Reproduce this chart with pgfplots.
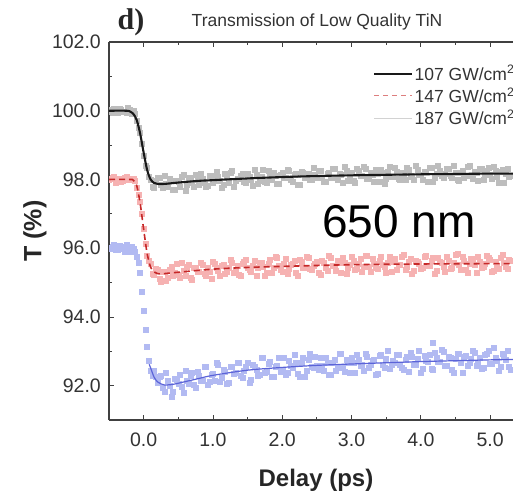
\documentclass[border=0pt]{standalone}
\usepackage{fontspec}
\setmainfont{Liberation Sans}
\newfontfamily\panelfont{Liberation Serif}
\usepackage{pgfplots}
\usepackage{pgfplotstable}
\pgfplotsset{compat=1.18}

\definecolor{txt}{HTML}{333333}
\definecolor{axgray}{HTML}{404040}
\definecolor{ptgray}{HTML}{BDBDBD}
\definecolor{ptred}{HTML}{F6B2B2}
\definecolor{ptblue}{HTML}{B2BAF2}
\definecolor{fitred}{HTML}{C62828}
\definecolor{fitblue}{HTML}{5B63D8}
\definecolor{leggray}{HTML}{D2D2D2}

% measured transmission: t = delay (ps), g/r/b = 107/147/187 GW/cm^2
\pgfplotstableread{
t g r b
-0.50 100.03 97.98 96.00
-0.45 99.95 98.06 96.05
-0.40 100.01 97.90 95.95
-0.35 100.06 98.02 96.07
-0.30 99.98 97.96 95.98
-0.25 99.93 98.08 96.11
-0.20 100.02 97.99 95.91
-0.15 100.00 98.01 95.98
-0.10 99.71 97.75 95.76
-0.05 99.35 97.35 95.30
0.00 98.69 96.56 94.17
0.05 98.33 95.79 93.12
0.10 98.00 95.54 92.44
0.15 97.75 95.23 92.43
0.20 98.05 95.37 92.08
0.25 97.84 95.03 92.30
0.30 98.10 95.32 91.81
0.35 97.78 95.13 92.13
0.40 97.97 95.45 91.68
0.45 97.70 95.29 92.19
0.50 97.94 95.24 92.07
0.55 98.07 95.59 91.96
0.60 97.68 95.21 92.44
0.65 98.04 95.53 92.07
0.70 97.90 95.09 92.38
0.75 98.15 95.43 91.95
0.80 97.84 95.33 92.28
0.85 98.02 95.51 92.13
0.90 97.80 95.20 92.54
0.95 98.11 95.32 92.11
1.00 97.91 95.61 92.34
1.05 98.24 95.43 92.67
1.10 97.97 95.20 92.12
1.15 97.85 95.52 92.46
1.20 98.08 95.33 92.05
1.25 98.19 95.67 92.56
1.30 97.79 95.28 92.36
1.35 98.02 95.49 92.66
1.40 98.12 95.21 92.28
1.45 97.93 95.61 92.44
1.50 98.18 95.44 92.66
1.55 97.98 95.33 92.18
1.60 98.27 95.65 92.54
1.65 97.87 95.42 92.30
1.70 98.08 95.59 92.80
1.75 97.93 95.21 92.39
1.80 98.25 95.54 92.64
1.85 97.99 95.29 92.27
1.90 98.11 95.75 92.55
1.95 97.87 95.50 92.80
2.00 98.20 95.33 92.46
2.05 98.05 95.69 92.33
2.10 98.26 95.40 92.72
2.15 97.93 95.54 92.52
2.20 98.17 95.28 92.66
2.25 97.84 95.66 92.25
2.30 98.19 95.43 92.82
2.35 98.10 95.74 92.43
2.40 98.00 95.39 92.93
2.45 98.33 95.50 92.51
2.50 98.05 95.61 92.59
2.55 98.25 95.22 92.80
2.60 97.94 95.59 92.43
2.65 98.16 95.34 92.67
2.70 98.04 95.71 92.33
2.75 98.31 95.48 92.75
2.80 97.99 95.65 92.51
2.85 98.15 95.30 92.94
2.90 98.37 95.58 92.41
2.95 97.97 95.44 92.67
3.00 98.20 95.74 92.81
3.05 97.90 95.38 92.39
3.10 98.26 95.55 92.75
3.15 98.11 95.32 92.61
3.20 98.31 95.78 92.93
3.25 98.03 95.47 92.51
3.30 98.13 95.70 92.72
3.35 98.29 95.42 92.31
3.40 97.94 95.64 92.87
3.45 98.19 95.53 92.60
3.50 98.02 95.28 92.78
3.55 98.37 95.74 92.50
3.60 98.07 95.62 92.72
3.65 98.24 95.37 92.89
3.70 97.98 95.51 92.61
3.75 98.18 95.82 92.45
3.80 98.35 95.46 92.83
3.85 98.10 95.68 92.97
3.90 98.00 95.34 92.60
3.95 98.28 95.60 92.77
4.00 98.13 95.40 92.39
4.05 98.23 95.76 92.88
4.10 97.93 95.48 92.71
4.15 98.33 95.65 92.50
4.20 98.06 95.26 92.96
4.25 98.41 95.71 92.69
4.30 98.11 95.57 93.04
4.35 98.16 95.32 92.58
4.40 98.31 95.63 92.84
4.45 98.04 95.44 92.45
4.50 98.21 95.80 92.77
4.55 97.96 95.52 92.94
4.60 98.26 95.75 92.38
4.65 98.10 95.38 92.88
4.70 98.40 95.55 92.67
4.75 98.02 95.69 93.02
4.80 98.20 95.30 92.57
4.85 98.30 95.61 92.81
4.90 98.00 95.47 92.51
4.95 98.25 95.77 92.93
5.00 98.15 95.66 92.65
5.05 98.37 95.35 93.10
5.10 98.07 95.49 92.72
5.15 98.22 95.72 92.55
5.20 97.92 95.58 92.87
5.25 98.32 95.41 93.01
5.30 98.12 95.63 92.45
-0.125 99.90 97.95 95.90
-0.075 99.52 97.57 95.58
-0.025 99.04 96.99 94.72
0.025 98.40 96.12 93.62
0.075 98.09 95.63 92.73
0.125 97.80 95.27 92.30
0.175 97.97 95.40 92.26
4.17 nan nan 93.25
-0.475 99.98 98.01 95.99
-0.425 100.06 98.08 96.11
-0.375 99.93 97.98 95.95
-0.325 100.02 97.94 96.04
-0.275 99.97 98.05 95.90
-0.225 100.08 97.99 96.01
-0.175 99.91 98.02 96.05
0.225 98.04 95.11 92.26
0.275 97.76 95.31 91.93
0.325 97.87 95.04 92.37
0.375 98.03 95.38 91.99
0.425 97.69 95.20 91.83
0.475 97.95 95.54 92.17
0.525 97.79 95.13 92.33
0.575 98.15 95.34 91.80
0.625 97.86 95.46 92.13
0.675 98.04 95.13 92.29
0.725 97.78 95.42 92.04
0.775 97.98 95.32 92.41
0.825 98.16 95.58 92.15
0.875 97.92 95.26 92.56
0.925 97.82 95.43 92.03
0.975 98.11 95.10 92.33
1.025 97.96 95.56 92.14
1.075 98.07 95.34 92.60
1.125 97.77 95.48 92.24
1.175 98.18 95.27 92.42
1.225 97.90 95.44 92.09
1.275 98.26 95.59 92.56
1.325 97.96 95.36 92.37
1.375 98.02 95.23 92.66
1.425 98.17 95.54 92.22
1.475 97.91 95.66 92.55
1.525 98.08 95.36 92.10
1.575 97.83 95.50 92.60
1.625 98.14 95.20 92.47
1.675 97.97 95.59 92.33
1.725 98.28 95.45 92.80
1.775 97.90 95.29 92.42
1.825 98.08 95.66 92.71
1.875 98.19 95.43 92.27
1.925 97.89 95.72 92.58
1.975 98.15 95.36 92.42
2.025 98.05 95.55 92.81
2.075 98.27 95.25 92.37
2.125 97.98 95.51 92.58
2.175 98.13 95.65 92.90
2.225 97.84 95.20 92.34
2.275 98.24 95.60 92.67
2.325 98.04 95.43 92.26
2.375 98.18 95.71 92.75
2.425 97.98 95.36 92.55
2.475 98.13 95.56 92.83
2.525 98.25 95.30 92.45
2.575 98.05 95.64 92.59
2.625 97.94 95.43 92.81
2.675 98.21 95.79 92.32
2.725 98.31 95.48 92.68
2.775 98.04 95.34 92.44
2.825 98.16 95.59 92.93
2.875 97.90 95.72 92.52
2.925 98.25 95.27 92.76
2.975 98.12 95.52 92.39
3.025 97.97 95.63 92.67
3.075 98.30 95.41 92.91
3.125 98.11 95.69 92.57
3.175 98.36 95.46 92.43
3.225 98.03 95.78 92.83
3.275 98.21 95.33 92.62
3.325 97.93 95.56 92.76
3.375 98.17 95.39 92.35
3.425 98.29 95.75 92.91
3.475 97.89 95.45 92.53
3.525 98.24 95.59 93.02
3.575 98.09 95.32 92.60
3.625 98.34 95.68 92.68
3.675 98.02 95.51 92.89
3.725 98.20 95.74 92.51
3.775 97.98 95.37 92.76
3.825 98.28 95.62 92.41
3.875 98.08 95.26 92.83
3.925 98.40 95.65 92.60
3.975 98.13 95.54 93.02
4.025 98.00 95.43 92.49
4.075 98.23 95.79 92.74
4.125 98.33 95.48 92.89
4.175 97.93 95.71 92.47
4.225 98.16 95.34 92.82
4.275 98.26 95.60 92.69
4.325 98.06 95.46 93.00
4.375 98.31 95.76 92.58
4.425 98.11 95.41 92.80
4.475 98.39 95.58 92.38
4.525 97.99 95.83 92.94
4.575 98.19 95.38 92.66
4.625 98.04 95.63 92.84
4.675 98.37 95.30 92.57
4.725 98.10 95.69 92.78
4.775 98.22 95.52 92.95
4.825 97.97 95.75 92.67
4.875 98.30 95.44 92.50
4.925 98.15 95.55 92.89
4.975 98.35 95.72 93.03
5.025 98.02 95.33 92.65
5.075 98.25 95.61 92.82
5.125 97.92 95.41 92.44
5.175 98.27 95.80 92.94
5.225 98.17 95.47 92.76
5.275 98.07 95.66 92.55
}\scan

% fitted curves
\pgfplotstableread{
t T
-0.50 100.00
-0.25 100.00
-0.20 99.98
-0.15 99.91
-0.10 99.73
-0.05 99.33
0.00 98.78
0.05 98.28
0.10 98.00
0.15 97.90
0.20 97.87
0.30 97.87
0.50 97.91
0.80 97.96
1.00 97.98
1.50 98.03
2.00 98.07
2.50 98.10
3.00 98.12
4.00 98.15
5.00 98.17
5.33 98.17
}\fitA
\pgfplotstableread{
t T
-0.50 98.00
-0.20 98.00
-0.15 97.98
-0.10 97.82
-0.05 97.30
0.00 96.55
0.05 95.85
0.10 95.45
0.15 95.31
0.20 95.26
0.25 95.25
0.30 95.26
0.50 95.30
1.00 95.39
1.50 95.44
2.00 95.47
3.00 95.52
4.00 95.54
5.00 95.55
5.33 95.55
}\fitB
\pgfplotstableread{
t T
0.08 92.62
0.10 92.52
0.15 92.25
0.20 92.11
0.25 92.05
0.30 92.02
0.40 92.03
0.50 92.07
0.80 92.21
1.00 92.30
1.50 92.45
2.00 92.53
2.50 92.59
3.00 92.63
4.00 92.70
5.00 92.75
5.33 92.76
}\fitC

\begin{document}
\begin{tikzpicture}
\path[use as bounding box] (0,0) rectangle (513pt,496pt);
\begin{axis}[
  at={(109pt,76pt)}, anchor=south west,
  scale only axis, width=404pt, height=378pt,
  xmin=-0.5, xmax=5.33, ymin=91, ymax=102,
  clip marker paths=true,
  axis y line*=left,
  axis line style={axgray, line width=1.1pt},
  xtick={0,1,2,3,4,5},
  xticklabels={0.0,1.0,2.0,3.0,4.0,5.0},
  ytick={92,94,96,98,100,102},
  yticklabels={92.0,94.0,96.0,98.0,100.0,102.0},
  minor x tick num=1, minor y tick num=1,
  tick align=inside,
  major tick length=5pt, minor tick length=3pt,
  tick style={axgray, line width=0.8pt},
  ticklabel style={font=\fontsize{19.5}{22}\selectfont, text=txt, inner sep=0pt},
  xticklabel style={anchor=north, yshift=-13pt},
  yticklabel style={anchor=east, xshift=-8pt},
  legend style={at={(0.646,0.948)}, anchor=north west, draw=none, fill=none,
    font=\fontsize{17.5}{20}\selectfont, text=txt, row sep=3pt,
    nodes={inner sep=1.5pt}},
  legend cell align=left,
  legend image code/.code={\draw[#1] (0pt,0pt) -- (38pt,0pt);},
]
% scatter first, fitted curves drawn over it
\addplot[only marks, color=ptgray, mark=square*, mark size=2.5pt,
  mark options={solid, draw=ptgray, fill=ptgray}, forget plot]
  table[x=t, y=g] {\scan};
\addplot[only marks, color=ptred, mark=square*, mark size=2.5pt,
  mark options={solid, draw=ptred, fill=ptred}, forget plot]
  table[x=t, y=r] {\scan};
\addplot[only marks, color=ptblue, mark=square*, mark size=2.5pt,
  mark options={solid, draw=ptblue, fill=ptblue}, forget plot]
  table[x=t, y=b] {\scan};

\addplot[black!90, line width=2.1pt, smooth, forget plot] table[x=t, y=T] {\fitA};
\addplot[fitred, line width=1.6pt, dash pattern=on 6pt off 4pt, smooth, forget plot] table[x=t, y=T] {\fitB};
\addplot[fitblue, line width=1.2pt, smooth, forget plot] table[x=t, y=T] {\fitC};

\addlegendimage{black!90, line width=2pt}
\addlegendentry{107 GW/cm\textsuperscript{2}}
\addlegendimage{fitred!60, line width=1.2pt, dash pattern=on 5pt off 4pt}
\addlegendentry{147 GW/cm\textsuperscript{2}}
\addlegendimage{leggray, line width=1.1pt}
\addlegendentry{187 GW/cm\textsuperscript{2}}
\end{axis}

\node[font=\panelfont\bfseries\fontsize{30}{32}\selectfont, text=black!85] at (131pt,474pt) {d)};
\node[font=\fontsize{17.5}{20}\selectfont, text=txt] at (317pt,474.5pt) {Transmission of Low Quality TiN};
\node[font=\fontsize{46}{50}\selectfont, anchor=base west, inner sep=0pt] at (322pt,259pt) {650 nm};
\node[font=\bfseries\fontsize{24}{26}\selectfont, text=black!85] at (316pt,16pt) {Delay (ps)};
\node[font=\bfseries\fontsize{25}{27}\selectfont, text=black!85, rotate=90] at (35pt,265pt) {T (\%)};
\end{tikzpicture}
\end{document}
